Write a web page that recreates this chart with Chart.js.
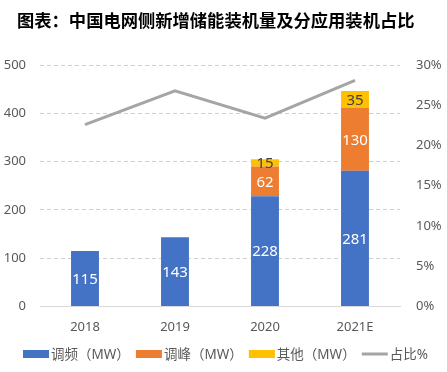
<!DOCTYPE html>
<html><head><meta charset="utf-8">
<script src="https://cdn.jsdelivr.net/npm/chart.js@4"></script>
<style>html,body{margin:0;padding:0;background:#fff;}#wrap{width:447px;height:372px;}</style>
</head><body><div id="wrap"><canvas id="c" width="447" height="372"></canvas></div>
<script>
const categories = ['2018', '2019', '2020', '2021E'];
const freqReg = [115, 143, 228, 281];
const peakReg = [null, null, 62, 130];
const others = [null, null, 15, 35];
const share = [22.6, 26.8, 23.4, 28.1];
const leftTicks = [0, 100, 200, 300, 400, 500];
const rightTicks = [0, 5, 10, 15, 20, 25, 30];
const titleText = '图表：中国电网侧新增储能装机量及分应用装机占比';

const FONT = '"Noto Sans", "Noto Sans CJK SC", sans-serif';

const labelPlugin = {
  id: 'barLabels',
  afterDatasetsDraw(chart) {
    const ctx = chart.ctx;
    ctx.save();
    ctx.font = '15px ' + FONT;
    ctx.textAlign = 'center';
    ctx.textBaseline = 'middle';
    chart.data.datasets.forEach((ds, i) => {
      if (ds.type === 'line') return;
      const meta = chart.getDatasetMeta(i);
      meta.data.forEach((el, j) => {
        const v = ds.data[j];
        if (v == null) return;
        const { x, y, base } = el.getProps(['x', 'y', 'base'], true);
        ctx.fillStyle = ds.labelColor;
        ctx.fillText(String(v), x, (y + base) / 2 + 1);
      });
    });
    ctx.restore();
  }
};

const titleLegendPlugin = {
  id: 'titleLegend',
  afterDraw(chart) {
    const ctx = chart.ctx;
    ctx.save();
    ctx.font = 'bold 17.3px "Noto Sans CJK SC", sans-serif';
    ctx.fillStyle = '#000000';
    ctx.textAlign = 'left';
    ctx.textBaseline = 'middle';
    ctx.fillText(titleText, 17, 20);
    ctx.font = '13.5px ' + FONT;
    const items = chart.data.datasets.map(ds => ({ text: ds.label, color: ds.backgroundColor, line: ds.type === 'line' }));
    const boxW = 26, gap = 2, left = 23, right = 428;
    let sum = 0;
    items.forEach(it => { it.w = ctx.measureText(it.text).width; sum += boxW + gap + it.w; });
    const spacing = Math.max(6, (right - left - sum) / (items.length - 1));
    let x = left;
    const y = 354;
    items.forEach((it, k) => {
      if (k) x += spacing;
      if (it.line) {
        ctx.strokeStyle = it.color; ctx.lineWidth = 3;
        ctx.beginPath(); ctx.moveTo(x, y); ctx.lineTo(x + boxW, y); ctx.stroke();
      } else {
        ctx.fillStyle = it.color;
        ctx.fillRect(x, y - 4, boxW, 8);
      }
      x += boxW + gap;
      ctx.fillStyle = '#595959';
      ctx.fillText(it.text, x, y + 1);
      x += it.w;
    });
    ctx.restore();
  }
};

new Chart(document.getElementById('c'), {
  data: {
    labels: categories,
    datasets: [
      { type: 'bar', label: '调频（MW）', data: freqReg, backgroundColor: '#4472C4', labelColor: '#ffffff', yAxisID: 'y', barPercentage: 0.62, categoryPercentage: 0.5 },
      { type: 'bar', label: '调峰（MW）', data: peakReg, backgroundColor: '#ED7D31', labelColor: '#ffffff', yAxisID: 'y', barPercentage: 0.62, categoryPercentage: 0.5 },
      { type: 'bar', label: '其他（MW）', data: others, backgroundColor: '#FFC000', labelColor: '#404040', yAxisID: 'y', barPercentage: 0.62, categoryPercentage: 0.5 },
      { type: 'line', label: '占比%', data: share, borderColor: '#A5A5A5', backgroundColor: '#A5A5A5', borderWidth: 3, pointRadius: 0, tension: 0, yAxisID: 'y1' }
    ]
  },
  options: {
    responsive: false,
    animation: false,
    devicePixelRatio: 1,
    layout: { padding: { left: 0, right: 0, top: 65, bottom: 32 } },
    plugins: {
      title: { display: false },
      legend: { display: false },
      tooltip: { enabled: false }
    },
    scales: {
      x: {
        stacked: true,
        grid: { display: false },
        border: { display: true, color: '#D9D9D9' },
        ticks: { color: '#595959', font: { family: FONT, size: 13 }, padding: 5 }
      },
      y: {
        stacked: true, min: 0, max: 500,
        afterBuildTicks(s) { s.ticks = leftTicks.map(v => ({ value: v })); },
        afterFit(s) { s.width = 40; },
        border: { display: false, dash: [4, 3] },
        grid: { color: '#D0D0D0', lineWidth: 1, drawTicks: false },
        ticks: { color: '#595959', font: { family: FONT, size: 13 }, padding: 14 }
      },
      y1: {
        position: 'right', min: 0, max: 30, stacked: false,
        afterBuildTicks(s) { s.ticks = rightTicks.map(v => ({ value: v })); },
        afterFit(s) { s.width = 47; },
        border: { display: false },
        grid: { display: false, drawTicks: false },
        ticks: { color: '#595959', font: { family: FONT, size: 13 }, padding: 16, callback: v => v + '%' }
      }
    }
  },
  plugins: [labelPlugin, titleLegendPlugin]
});
</script>
</body></html>
